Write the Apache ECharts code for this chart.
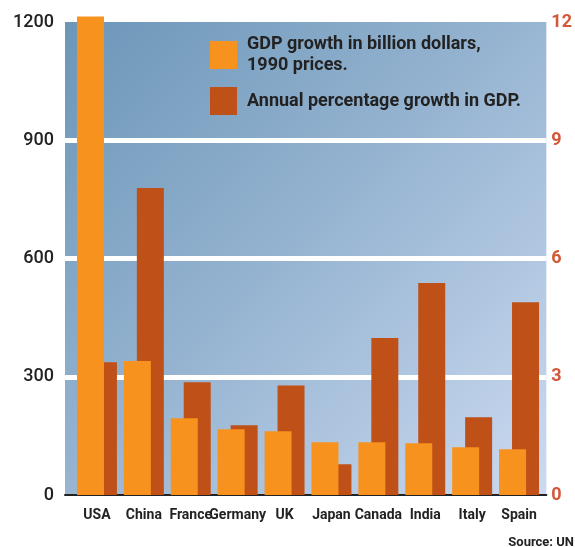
<!DOCTYPE html>
<html>
<head>
<meta charset="utf-8">
<script src="https://cdn.jsdelivr.net/npm/echarts@6/dist/echarts.min.js"></script>
<style>
  html, body { margin: 0; padding: 0; background: #fff; }
  #chart { width: 575px; height: 547px; }
</style>
</head>
<body>
<div id="chart"></div>
<script>
var countries = ['USA', 'China', 'France', 'Germany', 'UK', 'Japan', 'Canada', 'India', 'Italy', 'Spain'];
// GDP growth in billion dollars (left axis)
var gdpGrowth = [1214, 340, 195, 167, 162, 134, 134, 131, 121, 116];
// annual percentage growth (right axis)
var pctGrowth = [3.37, 7.79, 2.86, 1.77, 2.78, 0.78, 3.98, 5.38, 1.97, 4.89];
var leftTicks = [0, 300, 600, 900, 1200];
var rightTicks = [0, 3, 6, 9, 12];
var seriesNames = ['GDP growth in billion dollars,\n1990 prices.', 'Annual percentage growth in GDP.'];

var orange = '#f7921e';
var rust = '#bf5017';
var font = 'Roboto, "Liberation Sans", sans-serif';

var chart = echarts.init(document.getElementById('chart'));

var option = {
    animation: false,
    textStyle: { fontFamily: font },
    grid: [
        // background + gridlines + y axes
        { left: 65, right: 28, top: 22, bottom: 52, show: true, borderWidth: 0,
          backgroundColor: new echarts.graphic.LinearGradient(0, 0, 1, 1, [
              { offset: 0, color: '#6c96b8' },
              { offset: 0.45, color: '#93b2cf' },
              { offset: 1, color: '#ccdaf1' }
          ]) },
        // bars
        { left: 73.5, right: 32.5, top: 22, bottom: 52 }
    ],
    legend: {
        left: 210,
        top: 27.5,
        padding: 0,
        orient: 'vertical',
        itemWidth: 27,
        itemHeight: 28,
        itemGap: 4.5,
        icon: 'rect',
        selectedMode: false,
        textStyle: {
            fontFamily: font,
            fontSize: 18,
            fontWeight: 'bold',
            color: '#222',
            lineHeight: 21
        },
        data: [
            { name: seriesNames[0], textStyle: { padding: [13, 0, 0, 5] } },
            { name: seriesNames[1], textStyle: { padding: [3, 0, 0, 5] } }
        ]
    },
    xAxis: [
        { gridIndex: 0, type: 'value', min: 0, max: 1,
          axisLine: { show: true, onZero: false, lineStyle: { color: '#222', width: 2 } },
          axisTick: { show: false }, axisLabel: { show: false }, splitLine: { show: false } },
        { gridIndex: 1, type: 'category', data: countries,
          axisLine: { show: false }, axisTick: { show: false },
          axisLabel: { color: '#222', fontSize: 14, fontWeight: 'bold', margin: 13, interval: 0 } }
    ],
    yAxis: [
        { gridIndex: 0, type: 'value', min: 0, max: 1200, interval: 300,
          axisLine: { show: false }, axisTick: { show: false },
          axisLabel: { color: '#222', fontSize: 18, fontWeight: 500, margin: 11,
                       formatter: function (v) { return leftTicks.indexOf(v) >= 0 ? String(v) : ''; } },
          splitLine: { show: true, showMinLine: false, showMaxLine: false,
                       lineStyle: { color: '#fff', width: 5 } } },
        { gridIndex: 0, type: 'value', position: 'right', min: 0, max: 12, interval: 3,
          axisLine: { show: false }, axisTick: { show: false },
          axisLabel: { color: '#d2583a', fontSize: 18, fontWeight: 'bold', margin: 5,
                       formatter: function (v) { return rightTicks.indexOf(v) >= 0 ? String(v) : ''; } },
          splitLine: { show: false } },
        { gridIndex: 1, type: 'value', min: 0, max: 1200, show: false },
        { gridIndex: 1, type: 'value', min: 0, max: 12, show: false }
    ],
    series: [
        { name: seriesNames[0], type: 'bar',
          xAxisIndex: 1, yAxisIndex: 2, data: gdpGrowth, clip: false,
          barWidth: 27, barGap: '-52%', z: 4,
          itemStyle: { color: orange } },
        { name: seriesNames[1], type: 'bar',
          xAxisIndex: 1, yAxisIndex: 3, data: pctGrowth, clip: false,
          barWidth: 27, z: 3,
          itemStyle: { color: rust } }
    ],
    graphic: [
        { type: 'text', right: 1, top: 536,
          style: { text: 'Source: UN', fill: '#222', font: 'bold 13px ' + font } }
    ]
};

chart.setOption(option);
</script>
</body>
</html>
